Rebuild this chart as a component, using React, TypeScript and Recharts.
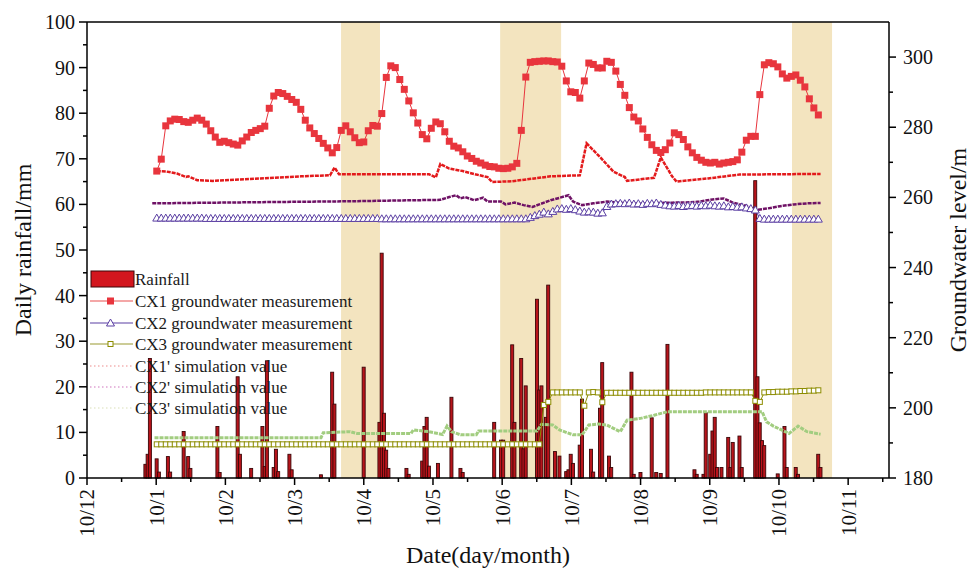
import React from "react";
import {
  Bar,
  ComposedChart,
  Legend,
  Line,
  ReferenceArea,
  ReferenceLine,
  XAxis,
  YAxis,
} from "recharts";

const FONT = '"Liberation Serif", "Times New Roman", serif';

// x axis is in days from the 10/12 tick
const monthTicks = [0, 30.75, 61.5, 92.25, 123, 153.75, 184.5, 215.25, 246, 276.75, 307.5, 338.25];
const monthLabels = ["10/12", "10/1", "10/2", "10/3", "10/4", "10/5", "10/6", "10/7", "10/8", "10/9", "10/10", "10/11"];
const minorXTicks = [15.375, 46.125, 76.875, 107.625, 138.375, 169.125, 199.875, 230.625, 261.375, 292.125, 322.875, 353.625];
const rainTicks = [0, 5, 10, 15, 20, 25, 30, 35, 40, 45, 50, 55, 60, 65, 70, 75, 80, 85, 90, 95, 100];
const levelTicks = [180, 190, 200, 210, 220, 230, 240, 250, 260, 270, 280, 290, 300];

// shaded periods [from, to] in days
const bands = [
  [112.9, 130.2],
  [183.6, 210.7],
  [313.3, 331.1],
];

// daily rainfall (mm)
const rainDays = [26, 27, 28, 31, 32, 36, 37, 43, 45, 46, 58, 59, 67, 68, 73, 78, 79, 80, 83, 84, 85, 90, 91, 104, 109, 110, 123, 130, 131, 132, 133, 134, 142, 143, 149, 150, 151, 152, 156, 162, 166, 167, 181, 184, 185, 189, 190, 193, 194, 195, 200, 201, 202, 204, 205, 208, 210, 213, 214, 215, 216, 219, 220, 224, 225, 228, 229, 232, 233, 242, 243, 246, 251, 253, 255, 258, 270, 271, 274, 275, 277, 278, 279, 280, 282, 285, 286, 287, 290, 291, 297, 298, 299, 300, 301, 307, 310, 311, 315, 316, 325, 326];
const rainMm = [3.0, 5.2, 26.2, 4.2, 1.3, 4.7, 1.3, 10.2, 4.7, 2.1, 11.3, 1.2, 22.2, 5.2, 2.1, 11.3, 2.5, 25.7, 2.3, 6.3, 1.4, 5.2, 1.8, 0.7, 23.2, 16.2, 24.3, 12.2, 49.3, 14.2, 6.1, 2.1, 2.1, 0.8, 3.7, 11.3, 13.3, 2.6, 3.2, 17.7, 2.1, 1.2, 12.2, 8.3, 8.3, 29.2, 12.2, 26.2, 6.4, 20.2, 39.2, 19.3, 20.2, 13.3, 42.3, 5.8, 4.8, 1.4, 1.8, 5.2, 3.2, 7.2, 17.3, 6.3, 1.3, 15.3, 25.3, 4.8, 2.3, 23.2, 0.8, 1.2, 13.2, 1.2, 1.0, 29.3, 1.8, 0.8, 0.8, 14.3, 5.2, 10.3, 13.3, 2.3, 2.3, 8.9, 2.3, 7.8, 9.2, 2.3, 65.2, 22.2, 12.1, 8.2, 7.1, 0.9, 11.3, 2.3, 2.3, 0.8, 5.2, 2.3];

// measured groundwater level (m), one reading every second day from day 31
const firstMeasureDay = 31;
const cx1Measured = [
  267.5, 270.9, 280.4, 281.8, 282.3, 282.2, 281.6, 281.4, 282.0, 282.6,
  282.0, 280.9, 279.0, 277.2, 275.7, 276.0, 275.6, 275.2, 274.9, 276.1,
  277.2, 278.5, 279.1, 279.6, 280.3, 285.4, 288.9, 289.9, 289.6, 288.8,
  287.9, 287.1, 285.1, 282.0, 279.8, 278.2, 276.8, 275.4, 274.1, 272.7,
  274.2, 279.1, 280.4, 278.7, 277.0, 275.6, 275.8, 279.0, 280.5, 280.3,
  283.9, 294.2, 297.5, 297.0, 293.6, 290.8, 287.5, 284.1, 281.2, 277.9,
  276.7, 279.7, 281.5, 281.0, 278.7, 276.0, 274.6, 274.1, 273.0, 271.8,
  271.1, 270.3, 269.8, 269.2, 268.8, 268.7, 268.3, 268.2, 268.3, 268.7,
  269.7, 279.1, 294.3, 298.5, 298.7, 298.8, 298.9, 298.9, 298.7, 298.6,
  297.4, 293.2, 290.1, 289.9, 288.3, 293.2, 298.3, 297.9, 296.9, 296.9,
  298.8, 298.5, 296.0, 292.2, 289.1, 285.6, 282.9, 281.8, 279.5, 277.1,
  275.0, 273.4, 272.8, 273.6, 275.5, 278.4, 277.9, 276.5, 274.4, 272.7,
  271.4, 270.6, 270.0, 269.8, 270.0, 269.5, 269.8, 270.0, 270.2, 270.7,
  272.9, 276.3, 277.4, 277.4, 289.3, 297.8, 298.4, 298.1, 297.2, 295.2,
  294.0, 294.5, 294.9, 293.4, 291.5, 288.1, 285.5, 283.5,
];
const cx2Measured = [
  254.1, 254.1, 254.1, 254.1, 254.1, 254.1, 254.1, 254.1, 254.1, 254.1,
  254.1, 254.0, 254.0, 254.0, 254.0, 254.0, 254.0, 254.0, 254.0, 254.0,
  254.0, 254.0, 254.0, 254.0, 254.0, 254.0, 254.0, 254.0, 254.0, 254.0,
  254.0, 254.0, 254.0, 254.0, 254.0, 254.0, 254.0, 254.0, 254.0, 254.0,
  254.0, 254.0, 254.0, 254.0, 254.0, 254.0, 254.0, 254.0, 254.0, 254.0,
  253.9, 253.9, 253.9, 253.9, 253.9, 253.9, 253.9, 253.9, 253.9, 253.9,
  253.9, 253.9, 253.9, 253.9, 253.9, 253.9, 253.9, 253.9, 253.9, 253.9,
  253.9, 253.9, 253.9, 253.9, 253.9, 253.9, 253.9, 253.9, 253.9, 253.9,
  253.9, 253.9, 253.9,
  254.3, 254.8, 255.2, 255.8, 255.3, 256.0, 256.7, 256.8, 256.6, 256.8,
  256.5, 256.1, 255.8, 255.9, 255.8, 255.5, 255.6, 257.4, 258.1, 258.2,
  258.3, 258.2, 258.4, 258.1, 258.2, 258.0, 258.3, 258.2, 258.4, 258.0,
  257.8, 257.6, 257.5, 257.7, 257.4, 257.6, 257.7, 257.5, 257.7, 257.6,
  257.8, 257.6, 257.5, 257.6, 257.3, 257.4, 257.2, 257.3, 257.0, 256.8,
  256.4, 254.0,
  253.8, 253.8, 253.8, 253.8, 253.8, 253.8, 253.8, 253.8, 253.8, 253.8,
  253.8, 253.8, 253.8,
];
const cx3Measured = [
  189.6, 189.6, 189.6, 189.6, 189.6, 189.6, 189.6, 189.6, 189.6, 189.6,
  189.6, 189.6, 189.6, 189.6, 189.6, 189.6, 189.6, 189.6, 189.6, 189.6,
  189.6, 189.6, 189.6, 189.6, 189.6, 189.6, 189.6, 189.6, 189.6, 189.6,
  189.6, 189.6, 189.6, 189.6, 189.6, 189.6, 189.6, 189.6, 189.6, 189.6,
  189.6, 189.6, 189.6, 189.6, 189.6, 189.6, 189.6, 189.6, 189.6, 189.6,
  189.6, 189.6, 189.6, 189.6, 189.6, 189.6, 189.6, 189.6, 189.6, 189.6,
  189.6, 189.6, 189.6, 189.6, 189.6, 189.6, 189.6, 189.6, 189.6, 189.6,
  189.6, 189.6, 189.6, 189.6, 189.6, 189.6, 189.6, 189.6, 189.6, 189.6,
  189.6, 189.6, 189.6, 189.6, 189.6, 189.6,
  200.8, 201.7, 204.4, 204.4, 204.4, 204.4, 204.4, 204.4, 204.4,
  200.6, 204.4, 204.5, 204.4, 201.6,
  204.3, 204.3, 204.3, 204.3, 204.3, 204.3, 204.3, 204.3, 204.3, 204.3,
  204.3, 204.3, 204.3, 204.3, 204.3, 204.3, 204.3, 204.3, 204.3, 204.3,
  204.3, 204.3, 204.4, 204.4, 204.4, 204.4, 204.4, 204.4, 204.4, 204.4,
  204.4, 204.4, 204.4,
  202.0, 201.7,
  204.4, 204.5, 204.5, 204.6, 204.6, 204.6, 204.7, 204.7, 204.8, 204.8,
  204.9, 204.9, 205.0,
];

// simulated groundwater level (m)
const cx1SimDays = [31, 35, 40, 44, 45, 49, 56, 77, 95, 108, 110, 112, 152, 155, 157, 161, 167, 173, 178, 180, 189, 206, 219, 222, 228, 234, 239, 240, 252, 255, 260, 262, 276, 290, 326];
const cx1Sim = [267.5, 267.4, 266.8, 265.8, 266.0, 264.9, 264.7, 265.4, 266.0, 266.3, 268.5, 266.6, 266.6, 265.7, 269.5, 268.2, 267.5, 266.5, 265.8, 264.4, 264.6, 266.0, 266.3, 275.4, 271.5, 267.3, 265.8, 264.7, 265.6, 271.4, 266.0, 264.5, 265.4, 266.5, 266.7];
const cx2SimDays = [29, 72, 117, 157, 161, 164, 166, 168, 172, 176, 178, 184, 186, 190, 194, 198, 201, 206, 209, 214, 216, 220, 225, 231, 238, 246, 253, 260, 268, 272, 278, 283, 287, 293, 297, 302, 308, 314, 320, 326];
const cx2Sim = [258.3, 258.6, 258.9, 259.3, 260.1, 260.6, 259.7, 260.1, 259.2, 259.9, 258.8, 258.8, 258.0, 258.5, 257.8, 257.3, 258.0, 259.2, 259.7, 260.6, 258.8, 257.8, 258.3, 258.8, 258.4, 258.3, 258.4, 258.5, 258.6, 258.8, 259.4, 259.7, 258.5, 257.6, 256.4, 256.8, 257.5, 258.0, 258.3, 258.4];
const cx3SimDays = [30, 104, 105, 117, 120, 144, 145, 152, 158, 160, 162, 166, 173, 174, 200, 202, 207, 210, 216, 220, 223, 227, 231, 237, 240, 246, 252, 258, 300, 302, 305, 312, 316, 320, 326];
const cx3Sim = [191.5, 191.5, 192.9, 193.2, 192.7, 192.7, 193.7, 193.2, 192.4, 194.8, 193.2, 192.3, 192.3, 193.4, 193.4, 195.3, 195.1, 193.7, 192.3, 192.3, 195.1, 195.4, 195.1, 193.2, 196.5, 197.0, 197.9, 198.9, 198.9, 196.0, 194.8, 192.7, 194.8, 193.2, 192.5];

const legendNames = [
  "Rainfall",
  "CX1 groundwater measurement",
  "CX2 groundwater measurement",
  "CX3 groundwater measurement",
  "CX1' simulation value",
  "CX2' simulation value",
  "CX3' simulation value",
];

const C = {
  band: "#f3e4bf",
  barFill: "#b8141b",
  barEdge: "#3a0608",
  cx1: "#e8353d",
  cx1Sim: "#e31a1c",
  cx2: "#5b3fa3",
  cx2Sim: "#6f1266",
  cx3: "#8c8c00",
  cx3Sim: "#a2cd80",
};

type Row = { day: number; [k: string]: number | undefined };

function buildRows(): Row[] {
  const map = new Map<number, Row>();
  const put = (day: number, key: string, v: number) => {
    const r = map.get(day) || { day };
    r[key] = v;
    map.set(day, r);
  };
  rainDays.forEach((d, i) => put(d, "rain", rainMm[i]));
  cx1Measured.forEach((v, i) => put(firstMeasureDay + 2 * i, "cx1", v));
  cx2Measured.forEach((v, i) => put(firstMeasureDay + 2 * i, "cx2", v));
  cx3Measured.forEach((v, i) => put(firstMeasureDay + 2 * i, "cx3", v));
  cx1SimDays.forEach((d, i) => put(d, "cx1Sim", cx1Sim[i]));
  cx2SimDays.forEach((d, i) => put(d, "cx2Sim", cx2Sim[i]));
  cx3SimDays.forEach((d, i) => put(d, "cx3Sim", cx3Sim[i]));
  return Array.from(map.values()).sort((a, b) => a.day - b.day);
}

const rows = buildRows();

const okDot = (p: any) =>
  p.value != null && typeof p.cx === "number" && typeof p.cy === "number" && !isNaN(p.cy);

function Cx1Dot(p: any) {
  if (!okDot(p)) return <g key={`a${p.index}`} />;
  return <rect key={`a${p.index}`} x={p.cx - 3.5} y={p.cy - 3.5} width={7} height={7} fill={C.cx1} />;
}
function Cx2Dot(p: any) {
  if (!okDot(p)) return <g key={`b${p.index}`} />;
  const { cx, cy } = p;
  return (
    <polygon
      key={`b${p.index}`}
      points={`${cx},${cy - 4} ${cx - 4},${cy + 3} ${cx + 4},${cy + 3}`}
      fill="#fff"
      stroke={C.cx2}
      strokeWidth={1}
    />
  );
}
function Cx3Dot(p: any) {
  if (!okDot(p)) return <g key={`c${p.index}`} />;
  return (
    <rect key={`c${p.index}`} x={p.cx - 2.5} y={p.cy - 2.5} width={5} height={5} fill="#fff" stroke={C.cx3} strokeWidth={1} />
  );
}

function RainBar(p: any) {
  if (!p.height || p.height <= 0) return <g />;
  return (
    <rect x={p.x + p.width / 2 - 1.5} y={p.y} width={3} height={p.height} fill={C.barFill} stroke={C.barEdge} strokeWidth={0.9} />
  );
}

function XTick(p: any) {
  const { x, y, payload } = p;
  const idx = monthTicks.indexOf(payload.value);
  const major = idx >= 0;
  const ty = y + 11;
  return (
    <g>
      <line x1={x} y1={y} x2={x} y2={y + (major ? 7 : 4)} stroke="#000" strokeWidth={1.5} />
      {major && (
        <text
          x={x}
          y={ty}
          transform={`rotate(-90 ${x} ${ty})`}
          textAnchor="end"
          dy="0.35em"
          fontSize={21}
          fontFamily={FONT}
          fill="#111"
        >
          {monthLabels[idx]}
        </text>
      )}
    </g>
  );
}

function LeftTick(p: any) {
  const { x, y, payload } = p;
  const major = payload.value % 10 === 0;
  return (
    <g>
      <line x1={x} y1={y} x2={x - (major ? 8 : 4)} y2={y} stroke="#000" strokeWidth={1.5} />
      {major && (
        <text x={x - 12} y={y} dy="0.35em" textAnchor="end" fontSize={20} fontFamily={FONT} fill="#111">
          {payload.value}
        </text>
      )}
    </g>
  );
}

function RightTick(p: any) {
  const { x, y, payload } = p;
  const major = payload.value % 20 === 0;
  return (
    <g>
      <line x1={x} y1={y} x2={x + (major ? 7 : 4)} y2={y} stroke="#000" strokeWidth={1.5} />
      {major && (
        <text x={x + 14} y={y} dy="0.35em" textAnchor="start" fontSize={20} fontFamily={FONT} fill="#111">
          {payload.value}
        </text>
      )}
    </g>
  );
}

function LegendBox() {
  const rowY = [11, 33, 55, 76, 98, 119, 140];
  const tx = 47;
  return (
    <svg width={300} height={152} style={{ display: "block", overflow: "visible" }}>
      <rect x={3} y={3} width={43} height={16} fill="#d3161e" stroke={C.barEdge} strokeWidth={1} />
      <line x1={2} x2={45} y1={rowY[1]} y2={rowY[1]} stroke="#f08a8a" strokeWidth={1.5} />
      <rect x={19} y={rowY[1] - 3.5} width={7} height={7} fill={C.cx1} />
      <line x1={2} x2={45} y1={rowY[2]} y2={rowY[2]} stroke={C.cx2} strokeWidth={1.2} />
      <polygon
        points={`22.5,${rowY[2] - 4} 18.5,${rowY[2] + 3} 26.5,${rowY[2] + 3}`}
        fill="#fff"
        stroke={C.cx2}
      />
      <line x1={2} x2={45} y1={rowY[3]} y2={rowY[3]} stroke="#9a9a30" strokeWidth={1.2} />
      <rect x={20} y={rowY[3] - 2.5} width={5} height={5} fill="#fff" stroke={C.cx3} />
      <line x1={2} x2={45} y1={rowY[4]} y2={rowY[4]} stroke="#f3b3b3" strokeWidth={1.5} strokeDasharray="1.5 2.5" />
      <line x1={2} x2={45} y1={rowY[5]} y2={rowY[5]} stroke="#e0a3d3" strokeWidth={1.5} strokeDasharray="1.5 2.5" />
      <line x1={2} x2={45} y1={rowY[6]} y2={rowY[6]} stroke="#e6ead0" strokeWidth={1.5} strokeDasharray="1.5 2.5" />
      {legendNames.map((n, i) => (
        <text key={n} x={tx} y={rowY[i]} dy="0.35em" fontSize={17} fontFamily={FONT} fill="#1a1a1a">
          {n}
        </text>
      ))}
    </svg>
  );
}

export default function App() {
  return (
    <div style={{ position: "absolute", left: 0, top: 0, background: "#fff" }}>
      <ComposedChart width={976} height={569} data={rows} margin={{ top: 22, right: 0, bottom: 0, left: 0 }}>
        {bands.map(([a, b]) => (
          <ReferenceArea
            key={a}
            xAxisId="x"
            yAxisId="rain"
            x1={a}
            x2={b}
            y1={0}
            y2={100}
            fill={C.band}
            fillOpacity={1}
            stroke="none"
          />
        ))}
        <XAxis
          xAxisId="x"
          dataKey="day"
          type="number"
          domain={[0, 356.4]}
          allowDataOverflow
          ticks={[...monthTicks, ...minorXTicks].sort((a, b) => a - b)}
          interval={0}
          height={91}
          tickLine={false}
          tickSize={0}
          tickMargin={0}
          axisLine={{ stroke: "#000", strokeWidth: 1.5 }}
          tick={<XTick />}
          label={() => (
            <text x={488} y={563} textAnchor="middle" fontSize={24} fontFamily={FONT} fill="#111">
              Date(day/month)
            </text>
          )}
        />
        <YAxis
          yAxisId="rain"
          orientation="left"
          width={87}
          domain={[0, 100]}
          ticks={rainTicks}
          interval={0}
          tickLine={false}
          tickSize={0}
          tickMargin={0}
          axisLine={{ stroke: "#000", strokeWidth: 1.5 }}
          tick={<LeftTick />}
          label={() => (
            <text
              x={23}
              y={250}
              transform="rotate(-90 23 250)"
              dy="0.35em"
              textAnchor="middle"
              fontSize={24}
              fontFamily={FONT}
              fill="#111"
            >
              Daily rainfall/mm
            </text>
          )}
        />
        <YAxis
          yAxisId="level"
          orientation="right"
          width={87}
          domain={[180, 310]}
          ticks={levelTicks}
          interval={0}
          tickLine={false}
          tickSize={0}
          tickMargin={0}
          axisLine={{ stroke: "#000", strokeWidth: 1.5 }}
          tick={<RightTick />}
          label={() => (
            <text
              x={958}
              y={250}
              transform="rotate(-90 958 250)"
              dy="0.35em"
              textAnchor="middle"
              fontSize={24}
              fontFamily={FONT}
              fill="#111"
            >
              Groundwater level/m
            </text>
          )}
        />
        <ReferenceLine xAxisId="x" yAxisId="rain" y={100} stroke="#000" strokeWidth={1.5} />
        <Bar
          xAxisId="x"
          yAxisId="rain"
          dataKey="rain"
          name={legendNames[0]}
          barSize={3}
          shape={<RainBar />}
          isAnimationActive={false}
        />
        <Line
          xAxisId="x"
          yAxisId="level"
          dataKey="cx1Sim"
          name={legendNames[4]}
          stroke={C.cx1Sim}
          strokeWidth={2.5}
          strokeDasharray="4 1"
          dot={false}
          activeDot={false}
          connectNulls
          isAnimationActive={false}
        />
        <Line
          xAxisId="x"
          yAxisId="level"
          dataKey="cx2Sim"
          name={legendNames[5]}
          stroke={C.cx2Sim}
          strokeWidth={2.5}
          strokeDasharray="4 1"
          dot={false}
          activeDot={false}
          connectNulls
          isAnimationActive={false}
        />
        <Line
          xAxisId="x"
          yAxisId="level"
          dataKey="cx3Sim"
          name={legendNames[6]}
          stroke={C.cx3Sim}
          strokeWidth={3}
          strokeDasharray="4 1"
          dot={false}
          activeDot={false}
          connectNulls
          isAnimationActive={false}
        />
        <Line
          xAxisId="x"
          yAxisId="level"
          dataKey="cx2"
          name={legendNames[2]}
          stroke={C.cx2}
          strokeWidth={1}
          dot={<Cx2Dot />}
          activeDot={false}
          connectNulls
          isAnimationActive={false}
        />
        <Line
          xAxisId="x"
          yAxisId="level"
          dataKey="cx3"
          name={legendNames[3]}
          stroke={C.cx3}
          strokeWidth={1}
          dot={<Cx3Dot />}
          activeDot={false}
          connectNulls
          isAnimationActive={false}
        />
        <Line
          xAxisId="x"
          yAxisId="level"
          dataKey="cx1"
          name={legendNames[1]}
          stroke={C.cx1}
          strokeWidth={1}
          dot={<Cx1Dot />}
          activeDot={false}
          connectNulls
          isAnimationActive={false}
        />
        <Legend
          layout="vertical"
          align="center"
          verticalAlign="middle"
          wrapperStyle={{ left: 88, top: 268, width: 300, height: 152 }}
          content={() => <LegendBox />}
        />
      </ComposedChart>
    </div>
  );
}
